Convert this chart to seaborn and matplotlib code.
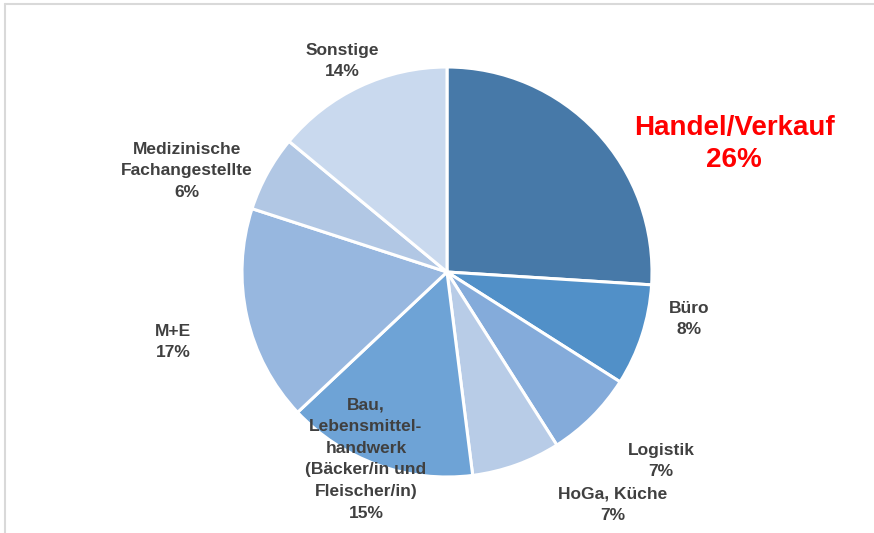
import matplotlib
matplotlib.use("Agg")
import matplotlib.pyplot as plt
from matplotlib.lines import Line2D
import seaborn as sns

# shares by occupational field (percent), clockwise from 12 o'clock
fields = ["Handel/Verkauf", "Büro", "Logistik", "HoGa, Küche",
          "Bau,\nLebensmittel-\nhandwerk\n(Bäcker/in und\nFleischer/in)",
          "M+E", "Medizinische\nFachangestellte", "Sonstige"]
shares = [26, 8, 7, 7, 15, 17, 6, 14]
colors = ["#4779A8", "#5190C8", "#84ABDA", "#B8CCE7",
          "#6EA3D6", "#97B7DF", "#B1C7E4", "#C9D9EE"]

sns.set_theme(style="white")
plt.rcParams["font.family"] = ["Liberation Sans", "DejaVu Sans"]

W, H = 874, 533
fig = plt.figure(figsize=(W / 100, H / 100), dpi=100)
fig.patch.set_facecolor("white")

# pie centre and radius in pixels
cx, cy, r = 447, 272, 205
ax = fig.add_axes([(cx - r) / W, (H - cy - r) / H, 2 * r / W, 2 * r / H])
ax.pie(shares, colors=colors, startangle=90, counterclock=False,
       wedgeprops=dict(edgecolor="white", linewidth=2.2))
ax.set_xlim(-1, 1)
ax.set_ylim(-1, 1)
ax.set_axis_off()

# label anchor points (pixel centres in the reference)
label_px = [(734, 144), (689, 319), (661, 461), (613, 505),
            (366, 459), (173, 342), (187, 171), (342, 61)]
for name, val, (px, py) in zip(fields, shares, label_px):
    x = (px - cx) / r
    y = (cy - py) / r
    txt = f"{name}\n{val}%"
    if name == "Handel/Verkauf":
        ax.text(x, y, txt, ha="center", va="center", color="#FF0000",
                fontsize=20, fontweight="bold", linespacing=1.3, clip_on=False)
    else:
        ax.text(x, y, txt, ha="center", va="center", color="#404040",
                fontsize=12.5, fontweight="bold", linespacing=1.55, clip_on=False)

# chart-area border remnants (top and left)
fig.add_artist(Line2D([5 / W, 1], [1 - 4 / H, 1 - 4 / H], color="#D9D9D9", lw=1.5))
fig.add_artist(Line2D([5 / W, 5 / W], [0, 1 - 4 / H], color="#D9D9D9", lw=1.5))

fig.savefig("out.png", dpi=100, facecolor="white")
